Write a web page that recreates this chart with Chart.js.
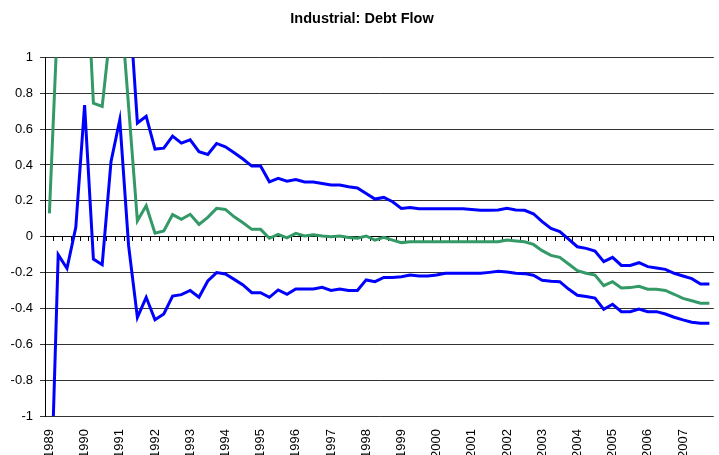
<!DOCTYPE html>
<html>
<head>
<meta charset="utf-8">
<title>Industrial: Debt Flow</title>
<script src="https://cdn.jsdelivr.net/npm/chart.js@4"></script>
<style>
  html, body { margin: 0; padding: 0; background: #fff; overflow: hidden; }
  #wrap { position: absolute; left: 0; top: 0; width: 730px; height: 480px; }
</style>
</head>
<body>
<div id="wrap"><canvas id="myChart" width="730" height="480"></canvas></div>
<script>
// year tick labels, one per four quarters (1989 Q1 .. 2007 Q4)
var years = ["1989", "1990", "1991", "1992", "1993", "1994", "1995", "1996", "1997", "1998",
             "1999", "2000", "2001", "2002", "2003", "2004", "2005", "2006", "2007"];

// upper blue band (values above 1 run off the top of the chart)
var upperBand = [1.5, 1.5, 1.5, 1.5, 1.5, 1.5, 1.5, 1.5, 1.5, 1.37,
                 0.634, 0.671, 0.489, 0.494, 0.561, 0.522, 0.54, 0.474, 0.459, 0.52,
                 0.501, 0.468, 0.433, 0.394, 0.394, 0.306, 0.325, 0.31, 0.319, 0.305,
                 0.305, 0.297, 0.288, 0.288, 0.279, 0.272, 0.241, 0.21, 0.219, 0.195,
                 0.158, 0.163, 0.156, 0.156, 0.156, 0.156, 0.156, 0.156, 0.152, 0.147,
                 0.147, 0.149, 0.158, 0.149, 0.147, 0.128, 0.084, 0.046, 0.028, -0.013,
                 -0.056, -0.065, -0.08, -0.139, -0.115, -0.16, -0.16, -0.145, -0.167, -0.175,
                 -0.182, -0.204, -0.219, -0.234, -0.264, -0.264];

// green middle line
var debtFlow = [0.13, 1.29, 1.6, 1.8, 1.73, 0.745, 0.727, 1.18, 1.36, 0.727,
                0.089, 0.173, 0.019, 0.032, 0.123, 0.097, 0.125, 0.069, 0.108, 0.158,
                0.152, 0.111, 0.078, 0.041, 0.041, -0.009, 0.013, -0.006, 0.019, 0.004,
                0.011, 0.004, 0, 0.004, -0.004, -0.009, 0.004, -0.019, -0.004, -0.019,
                -0.033, -0.028, -0.028, -0.028, -0.028, -0.028, -0.028, -0.028, -0.028, -0.028,
                -0.028, -0.028, -0.019, -0.024, -0.028, -0.043, -0.078, -0.104, -0.115, -0.152,
                -0.189, -0.204, -0.214, -0.273, -0.251, -0.286, -0.284, -0.277, -0.293, -0.293,
                -0.3, -0.321, -0.344, -0.357, -0.371, -0.371];

// lower blue band
var lowerBand = [-1.74, -0.1, -0.177, 0.052, 0.734, -0.125, -0.156, 0.418, 0.652, -0.05,
                 -0.45, -0.338, -0.463, -0.431, -0.331, -0.323, -0.3, -0.338, -0.247, -0.2,
                 -0.208, -0.238, -0.269, -0.312, -0.312, -0.338, -0.297, -0.321, -0.292, -0.292,
                 -0.292, -0.282, -0.3, -0.292, -0.3, -0.3, -0.241, -0.251, -0.227, -0.227,
                 -0.223, -0.214, -0.219, -0.219, -0.214, -0.204, -0.204, -0.204, -0.204, -0.204,
                 -0.199, -0.193, -0.197, -0.204, -0.206, -0.215, -0.243, -0.249, -0.251, -0.292,
                 -0.327, -0.334, -0.342, -0.405, -0.377, -0.418, -0.418, -0.403, -0.418, -0.418,
                 -0.431, -0.449, -0.464, -0.477, -0.483, -0.483];

// quarterly categories: year shown on the first quarter only
var quarters = [];
years.forEach(function (y) {
    quarters.push(y, "", "", "");
});

var font = "'Liberation Sans', Arial, sans-serif";

var ctx = document.getElementById("myChart").getContext("2d");
var chart = new Chart(ctx, {
    type: "line",
    data: {
        labels: quarters,
        datasets: [
            { label: "upper", data: upperBand, borderColor: "#0000ff", borderWidth: 3 },
            { label: "flow", data: debtFlow, borderColor: "#339966", borderWidth: 3 },
            { label: "lower", data: lowerBand, borderColor: "#0000ff", borderWidth: 3 }
        ]
    },
    options: {
        responsive: false,
        animation: false,
        devicePixelRatio: 1,
        layout: { padding: { left: 0, right: 6, top: 0, bottom: 0 } },
        elements: {
            point: { radius: 0, hoverRadius: 0 },
            line: { tension: 0, borderJoinStyle: "miter" }
        },
        datasets: { line: { clip: 0 } },
        plugins: {
            legend: { display: false },
            tooltip: { enabled: false },
            title: {
                display: true,
                text: "Industrial: Debt Flow",
                color: "#000",
                font: { family: font, size: 14.5, weight: "bold" },
                padding: { top: 10, bottom: 30 }
            }
        },
        scales: {
            x: {
                type: "category",
                offset: true,
                grid: { display: false },
                border: { display: false },
                ticks: {
                    autoSkip: false,
                    minRotation: 90,
                    maxRotation: 90,
                    padding: 5,
                    color: "#000",
                    font: { family: font, size: 13 }
                },
                afterFit: function (axis) { axis.height = 64; }
            },
            // category axis crossing at zero, carrying the small tick marks
            x0: {
                type: "category",
                axis: "x",
                labels: quarters,
                position: { y: 0 },
                offset: true,
                grid: {
                    offset: true,
                    drawOnChartArea: false,
                    drawTicks: true,
                    tickLength: 4,
                    color: "#000"
                },
                border: { display: true, color: "#000", width: 1 },
                ticks: { display: false }
            },
            y: {
                min: -1,
                max: 1,
                ticks: {
                    stepSize: 0.2,
                    padding: 7,
                    color: "#000",
                    font: { family: font, size: 13 },
                    callback: function (v) { return String(Math.round(v * 10) / 10); }
                },
                grid: { color: "#333", lineWidth: 1, tickLength: 5 },
                border: { display: true, color: "#000", width: 1 },
                afterFit: function (axis) { axis.width = 45; }
            }
        }
    }
});
</script>
</body>
</html>
